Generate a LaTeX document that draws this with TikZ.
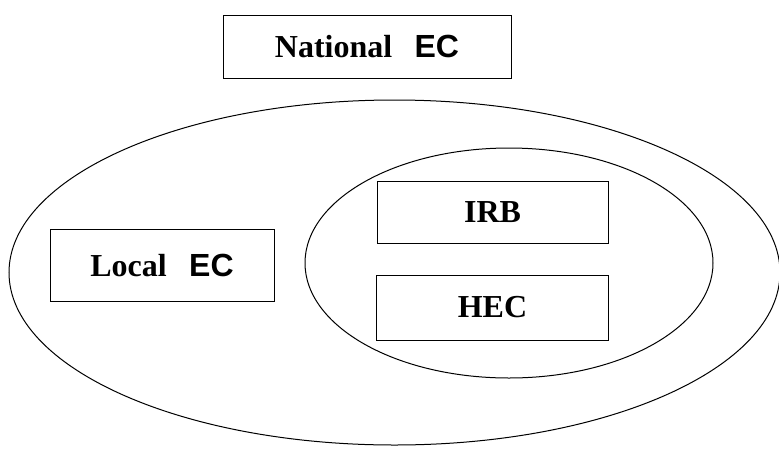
\documentclass[tikz,border=0pt]{standalone}
\usepackage{fontspec}
\setmainfont{Liberation Serif}
\newfontfamily\ecfont{Liberation Sans}
\usetikzlibrary{shapes.geometric}
\newcommand{\ecname}{{\ecfont EC}}
\tikzstyle{committee} = [rectangle, draw=black, line width=1pt, text centered, inner sep=0pt, font=\fontsize{32}{36}\selectfont\bfseries]
\tikzstyle{region} = [ellipse, draw=black, line width=1pt, inner sep=0pt]

\begin{document}
\begin{tikzpicture}[x=1pt, y=-1pt, node distance=95.5pt]
	\useasboundingbox (0,0) rectangle (779,448);

	\node (outer) [region, minimum width=771pt, minimum height=345pt] at (394.5,272.5) {};
	\node (inner) [region, minimum width=408pt, minimum height=230pt] at (509,263) {};

	\node (national) [committee, minimum width=288pt, minimum height=63pt] at (367,46.5) {National\hspace{0.7em}\ecname};
	\node (local) [committee, minimum width=224pt, minimum height=72pt] at (162,265) {Local\hspace{0.7em}\ecname};
	\node (irb) [committee, minimum width=231pt, minimum height=62pt] at (492.5,212) {IRB};
	\node (hec) [committee, minimum width=232pt, minimum height=65pt, below of=irb] {HEC};
\end{tikzpicture}
\end{document}
